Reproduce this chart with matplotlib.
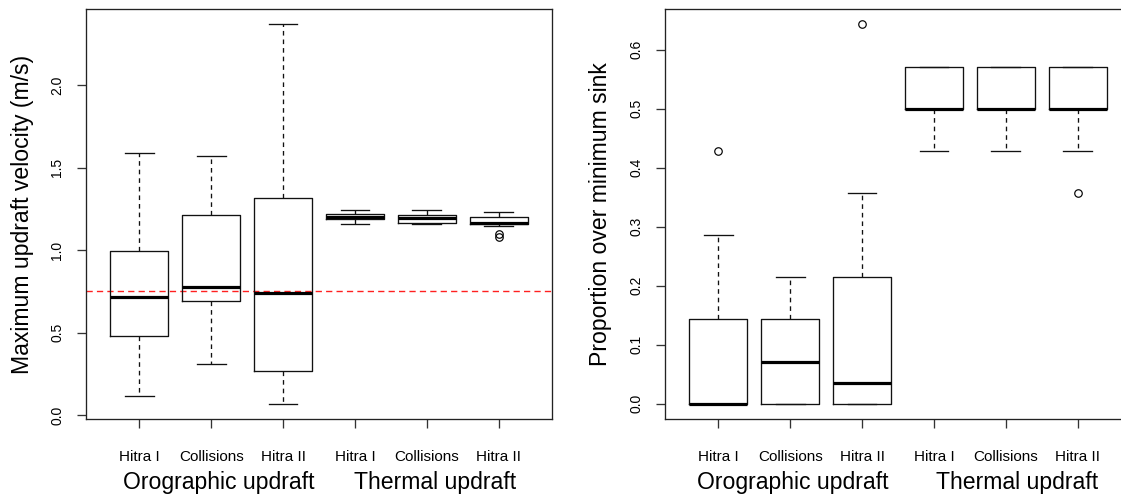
import matplotlib
matplotlib.use('Agg')
import matplotlib.pyplot as plt

plt.rcParams['font.family'] = ['Liberation Sans', 'DejaVu Sans']

# ---------------- data ----------------
categories = ['Hitra I', 'Collisions', 'Hitra II', 'Hitra I', 'Collisions', 'Hitra II']
groups = ['Orographic updraft', 'Thermal updraft']

# Panel 1: maximum updraft velocity (m/s)
vel_whislo = [0.117, 0.309, 0.067, 1.160, 1.160, 1.147]
vel_q1 = [0.479, 0.689, 0.267, 1.190, 1.165, 1.160]
vel_med = [0.713, 0.778, 0.739, 1.202, 1.196, 1.166]
vel_q3 = [0.992, 1.210, 1.313, 1.216, 1.210, 1.202]
vel_whishi = [1.590, 1.570, 2.368, 1.240, 1.240, 1.232]
vel_fliers = [[], [], [], [], [], [1.097, 1.077]]
vel_threshold = 0.75
vel_yticks = [0.0, 0.5, 1.0, 1.5, 2.0]

# Panel 2: proportion over minimum sink
prop_whislo = [0.0, 0.0, 0.0, 0.4286, 0.4286, 0.4286]
prop_q1 = [0.0, 0.0, 0.0, 0.5, 0.5, 0.5]
prop_med = [0.0, 0.0714, 0.0357, 0.5, 0.5, 0.5]
prop_q3 = [0.1429, 0.1429, 0.2143, 0.5714, 0.5714, 0.5714]
prop_whishi = [0.2857, 0.2143, 0.3571, 0.5714, 0.5714, 0.5714]
prop_fliers = [[0.4286], [], [0.6429], [], [], [0.3571]]
prop_yticks = [0.0, 0.1, 0.2, 0.3, 0.4, 0.5, 0.6]

W, H = 1121, 496
fig = plt.figure(figsize=(W / 100, H / 100), dpi=100)
fig.patch.set_facecolor('white')

LW = 0.95


def make_stats(wlo, q1, med, q3, whi, fl):
    return [dict(whislo=a, q1=b, med=c, q3=d, whishi=e, fliers=f)
            for a, b, c, d, e, f in zip(wlo, q1, med, q3, whi, fl)]


def panel(rect, stats, ylim, yticks, ylabel, ylabel_x, group_x):
    ax = fig.add_axes(rect)
    positions = list(range(1, len(categories) + 1))
    ax.bxp(stats, positions=positions, widths=0.8, capwidths=0.4,
           showfliers=True, manage_ticks=False,
           boxprops=dict(color='#111111', linewidth=LW),
           whiskerprops=dict(color='#111111', linewidth=LW, linestyle=(0, (3.5, 3.0))),
           capprops=dict(color='#111111', linewidth=LW),
           medianprops=dict(color='black', linewidth=2.3, solid_capstyle='butt'),
           flierprops=dict(marker='o', markerfacecolor='none', markeredgecolor='black',
                           markersize=5.4, markeredgewidth=0.85))
    ax.set_xlim(0.26, 6.74)
    ax.set_ylim(*ylim)
    ax.set_xticks(positions)
    ax.set_xticklabels(categories, fontsize=11)
    ax.set_yticks(yticks)
    ax.set_yticklabels([f'{v:.1f}' for v in yticks], fontsize=10, rotation=90, va='center')
    ax.tick_params(axis='both', direction='out', length=6.5, width=LW, color='#333333')
    ax.tick_params(axis='x', pad=16)
    ax.tick_params(axis='y', pad=9)
    for sp in ax.spines.values():
        sp.set_linewidth(LW)
        sp.set_color('#222222')
    fig.text(ylabel_x / W, 1 - 214 / H, ylabel, rotation=90, ha='center', va='center',
             fontsize=16.6)
    trans = ax.get_xaxis_transform()
    for gx, g in zip(group_x, groups):
        ax.text(gx, -(489 - 419) / 410, g, transform=trans, ha='center', va='baseline',
                fontsize=16.6)
    return ax


ax1 = panel([86 / W, 1 - 419 / H, 466 / W, 410 / H],
            make_stats(vel_whislo, vel_q1, vel_med, vel_q3, vel_whishi, vel_fliers),
            (-0.024, 2.461), vel_yticks, 'Maximum updraft velocity (m/s)', 22.5, [2.1, 5.12])
ax1.axhline(vel_threshold, color='#ff2020', linewidth=1.0, linestyle=(0, (4.5, 3)), zorder=0.5)

ax2 = panel([665 / W, 1 - 419 / H, 466 / W, 410 / H],
            make_stats(prop_whislo, prop_q1, prop_med, prop_q3, prop_whishi, prop_fliers),
            (-0.0257, 0.669), prop_yticks, 'Proportion over minimum sink', 601, [2.03, 5.15])

fig.savefig('out.png', dpi=100)
